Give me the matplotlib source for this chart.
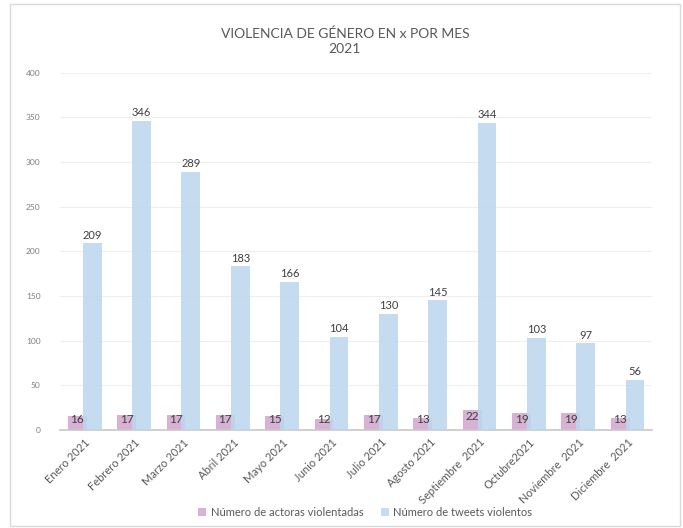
import matplotlib
matplotlib.use("Agg")
import matplotlib.pyplot as plt
from matplotlib.patches import Rectangle
import numpy as np

# data
months = ["Enero 2021", "Febrero 2021", "Marzo 2021", "Abril 2021", "Mayo 2021",
          "Junio 2021", "Julio 2021", "Agosto 2021", "Septiembre  2021",
          "Octubre2021", "Noviembre  2021", "Diciembre  2021"]
actoras = [16, 17, 17, 17, 15, 12, 17, 13, 22, 19, 19, 13]
tweets = [209, 346, 289, 183, 166, 104, 130, 145, 344, 103, 97, 56]

pink = "#D8B2D4"
blue = "#BDD7EE"
grey_txt = "#595959"

plt.rcParams["font.family"] = ["Lato", "DejaVu Sans"]

fig = plt.figure(figsize=(6.83, 5.28), dpi=100)
ax = fig.add_axes([0.088, 0.186, 0.867, 0.676])

x = np.arange(len(months))
w = 0.38
ax.bar(x - 0.15, actoras, width=w, color=pink, zorder=2,
       label="Número de actoras violentadas")
ax.bar(x + 0.15, tweets, width=w, color=blue, alpha=0.88, zorder=3,
       label="Número de tweets violentos")

# labels
for xi, v in zip(x, tweets):
    ax.text(xi + 0.15, v + 3, str(v), ha="center", va="bottom",
            fontsize=8, color="#404040", zorder=4)
for xi, v in zip(x, actoras):
    ax.text(xi - 0.15, max(v - 7, 11), str(v), ha="center", va="center",
            fontsize=8.5, color="#404040", zorder=4)

ax.set_xlim(-0.5, len(months) - 0.5)
ax.set_ylim(0, 400)
ax.set_yticks(range(0, 401, 50))
ax.yaxis.grid(True, color="#EFEFEF", linewidth=0.8, zorder=0)
ax.set_axisbelow(True)
for s in ["top", "right", "left"]:
    ax.spines[s].set_visible(False)
ax.spines["bottom"].set_color("#C8C8C8")
ax.spines["bottom"].set_linewidth(1.2)
ax.tick_params(axis="y", length=0, pad=14, labelsize=6, labelcolor="#7F7F7F")
ax.tick_params(axis="x", length=0, pad=5)
ax.set_xticks(x)
ax.set_xticklabels(months, rotation=45, ha="right", rotation_mode="anchor",
                   fontsize=8, color=grey_txt)

fig.text(0.505, 0.922, "VIOLENCIA DE GÉNERO EN x POR MES\n2021", ha="center",
         va="center", fontsize=10, color=grey_txt, linespacing=1.25)

fig.legend(loc="center", bbox_to_anchor=(0.535, 0.03), ncol=2, frameon=False,
           fontsize=8, labelcolor=grey_txt, handlelength=0.7, handleheight=0.7,
           handletextpad=0.4, columnspacing=1.6)

fig.patches.append(Rectangle((0.0146, 0.0038), 0.981, 0.988, transform=fig.transFigure,
                             fill=False, edgecolor="#D9D9D9", linewidth=1))

fig.savefig("out.png", dpi=100)
